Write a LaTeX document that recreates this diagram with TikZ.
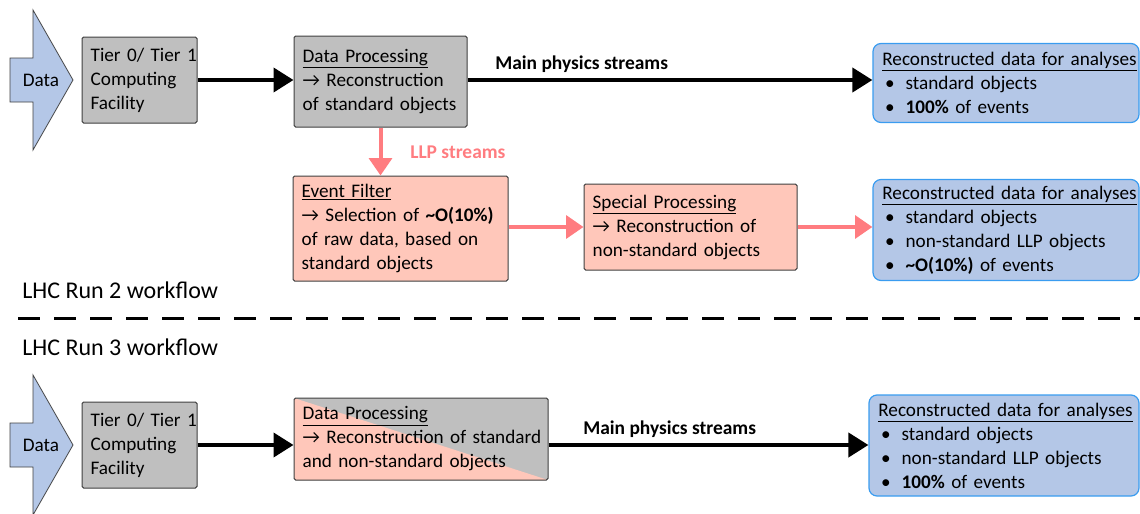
\documentclass[tikz,border=0pt]{standalone}
\usepackage{fontspec}
\setmainfont{Carlito}
\usetikzlibrary{arrows.meta}
\definecolor{grayfill}{HTML}{BFBFBF}
\definecolor{boxline}{HTML}{404040}
\definecolor{pinkfill}{HTML}{FFC7BA}
\definecolor{arrowpink}{HTML}{FF7C80}
\definecolor{bluefill}{HTML}{B4C7E7}
\definecolor{recoline}{HTML}{3A9CF0}
\newcommand\bl{\makebox[17.5pt][l]{\hspace{2pt}\textbullet}}
\begin{document}
\begin{tikzpicture}[x=0.75pt,y=-0.75pt,
  font=\fontsize{14.4}{18}\selectfont,
  box/.style={draw=boxline, line width=0.75pt, rounded corners=1.2pt, inner xsep=6.5pt, inner ysep=0pt, align=left},
  graybox/.style={box, fill=grayfill},
  pinkbox/.style={box, fill=pinkfill},
  recobox/.style={draw=recoline, fill=bluefill, line width=0.9pt, rounded corners=6pt, inner xsep=7pt, inner ysep=0pt, align=left},
  dataarrow/.style={draw=boxline, fill=bluefill, line width=0.6pt},
  blackarrow/.style={line width=3pt, -{Triangle[length=15pt,width=18pt]}},
  pinkarrow/.style={draw=arrowpink, line width=3pt, -{Triangle[length=13pt,width=17pt]}},
  lbl/.style={font=\fontsize{14.6}{18}\selectfont\bfseries, inner sep=0pt},
  runlbl/.style={font=\fontsize{18}{22}\selectfont, inner sep=0pt}]
\useasboundingbox (0,0) rectangle (1140,514);

% ---------- Run 2 ----------
\draw[dataarrow] (10,58) -- (33,58) -- (33,10) -- (73,80) -- (33,150) -- (33,102) -- (10,102) -- cycle;
\node[inner sep=0pt] (data1) at (41,80) {Data};

\node[graybox, minimum width=86.25pt, minimum height=64.5pt, text width=73.25pt] (tier1) at (139.5,80)
  {Tier~0/~Tier~1\\Computing\\Facility};

\node[graybox, minimum width=129.75pt, minimum height=68.25pt, text width=116.75pt] (dp1) at (380.5,81.5)
  {\underline{Data Processing}\\→ Reconstruction\\of standard objects};

\node[recobox, minimum width=199.5pt, minimum height=59.25pt, text width=185.5pt] (reco1) at (1006,83)
  {\underline{Reconstructed data for analyses}\\\bl standard objects\\\bl \textbf{100\%} of events};

\node[pinkbox, minimum width=161.25pt, minimum height=78.75pt, text width=148.25pt] (ef) at (400.5,228.5)
  {\underline{Event Filter}\\→ Selection of \textbf{\textasciitilde O(10\%)}\\of raw data, based on\\standard objects};

\node[pinkbox, minimum width=159.75pt, minimum height=64.5pt, text width=146.75pt] (sp) at (690.5,227)
  {\underline{Special Processing}\\→ Reconstruction of\\non-standard objects};

\node[recobox, minimum width=199.5pt, minimum height=75.75pt, text width=185.5pt] (reco2) at (1006,230)
  {\underline{Reconstructed data for analyses}\\\bl standard objects\\\bl non-standard LLP objects\\\bl \textbf{\textasciitilde O(10\%)} of events};

\draw[blackarrow] (tier1.east) -- (tier1.east -| dp1.west);
\draw[blackarrow] (tier1.east -| dp1.east) -- (tier1.east -| reco1.west);
\node[lbl, anchor=west] (mps1) at (495,64) {Main physics streams};
\draw[pinkarrow] (dp1.south) -- (dp1.south |- ef.north);
\node[lbl, text=arrowpink, anchor=west] (llp) at (410,152) {LLP streams};
\draw[pinkarrow] (ef.east |- sp.east) -- (sp.west);
\draw[pinkarrow] (sp.east) -- (sp.east -| reco2.west);

\node[runlbl, anchor=west] (run2) at (22,290) {LHC Run 2 workflow};
\coordinate (dl) at (18,318);
\coordinate (dr) at (1140,318);
\draw[line width=2.25pt, dash pattern=on 16.5pt off 10.5pt] (dl) -- (dr);
\node[runlbl, anchor=west] (run3) at (22,347) {LHC Run 3 workflow};

% ---------- Run 3 ----------
\draw[dataarrow] (10,423) -- (33,423) -- (33,375) -- (73,445) -- (33,515) -- (33,467) -- (10,467) -- cycle;
\node[inner sep=0pt] (data2) at (41,445) {Data};

\node[graybox, minimum width=86.25pt, minimum height=64.5pt, text width=73.25pt] (tier2) at (139.5,445)
  {Tier~0/~Tier~1\\Computing\\Facility};

\node[box, fill=grayfill, minimum width=190.5pt, minimum height=61.5pt, text width=177.5pt,
  path picture={\fill[pinkfill] (path picture bounding box.north west) -- (path picture bounding box.south east) -- (path picture bounding box.south west) -- cycle;}]
  (dp2) at (421,439)
  {\underline{Data Processing}\\\mbox{→ Reconstruction of standard}\\and non-standard objects};

\node[recobox, minimum width=202.5pt, minimum height=75.75pt, text width=188.5pt] (reco3) at (1004,445.5)
  {\underline{Reconstructed data for analyses}\\\bl standard objects\\\bl non-standard LLP objects\\\bl \textbf{100\%} of events};

\draw[blackarrow] (tier2.east) -- (tier2.east -| dp2.west);
\draw[blackarrow] (tier2.east -| dp2.east) -- (tier2.east -| reco3.west);
\node[lbl, anchor=west] (mps2) at (583,429) {Main physics streams};
\end{tikzpicture}
\end{document}
